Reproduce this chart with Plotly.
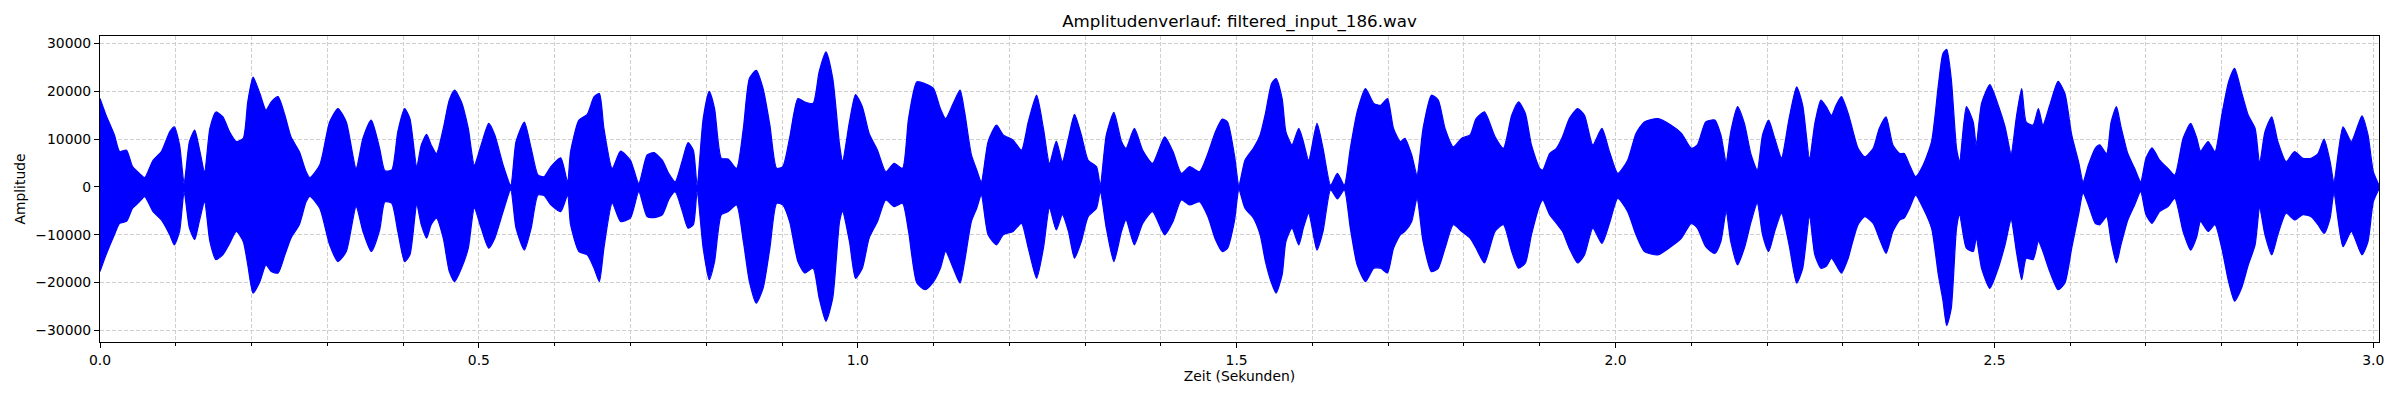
import plotly.graph_objects as go

# envelope of the waveform (seconds / amplitude)
time_s = [
    0.000, 0.008, 0.019, 0.026, 0.035, 0.043, 0.052, 0.059, 0.070, 0.081,
    0.092, 0.098, 0.105, 0.111, 0.118, 0.125, 0.131, 0.138, 0.145, 0.153,
    0.162, 0.171, 0.180, 0.189, 0.195, 0.202, 0.211, 0.219, 0.226, 0.235,
    0.244, 0.252, 0.263, 0.272, 0.277, 0.290, 0.303, 0.314, 0.325, 0.338,
    0.347, 0.358, 0.369, 0.376, 0.385, 0.393, 0.402, 0.409, 0.418, 0.424,
    0.431, 0.437, 0.444, 0.453, 0.461, 0.468, 0.477, 0.486, 0.494, 0.503,
    0.513, 0.521, 0.532, 0.542, 0.549, 0.560, 0.569, 0.578, 0.586, 0.595,
    0.608, 0.617, 0.621, 0.632, 0.643, 0.652, 0.659, 0.665, 0.676, 0.687,
    0.700, 0.711, 0.722, 0.731, 0.742, 0.751, 0.759, 0.768, 0.776, 0.783,
    0.788, 0.796, 0.804, 0.811, 0.820, 0.829, 0.840, 0.849, 0.857, 0.866,
    0.875, 0.884, 0.893, 0.901, 0.910, 0.921, 0.930, 0.941, 0.949, 0.958,
    0.967, 0.976, 0.980, 0.989, 0.997, 1.006, 1.015, 1.026, 1.037, 1.048,
    1.059, 1.067, 1.078, 1.089, 1.100, 1.109, 1.116, 1.126, 1.135, 1.141,
    1.150, 1.157, 1.163, 1.172, 1.183, 1.192, 1.205, 1.216, 1.225, 1.236,
    1.245, 1.253, 1.262, 1.270, 1.278, 1.286, 1.295, 1.304, 1.315, 1.320,
    1.328, 1.338, 1.348, 1.354, 1.365, 1.376, 1.389, 1.405, 1.416, 1.427,
    1.438, 1.451, 1.462, 1.472, 1.481, 1.488, 1.497, 1.503, 1.511, 1.522,
    1.531, 1.538, 1.546, 1.552, 1.560, 1.565, 1.573, 1.582, 1.588, 1.595,
    1.606, 1.614, 1.624, 1.633, 1.642, 1.650, 1.659, 1.670, 1.681, 1.690,
    1.699, 1.707, 1.716, 1.722, 1.731, 1.738, 1.746, 1.757, 1.766, 1.775,
    1.786, 1.797, 1.808, 1.816, 1.827, 1.841, 1.852, 1.863, 1.872, 1.881,
    1.889, 1.900, 1.904, 1.913, 1.922, 1.930, 1.939, 1.950, 1.959, 1.970,
    1.982, 1.992, 2.003, 2.016, 2.027, 2.038, 2.056, 2.073, 2.087, 2.100,
    2.108, 2.119, 2.131, 2.139, 2.146, 2.152, 2.161, 2.170, 2.179, 2.187,
    2.194, 2.202, 2.210, 2.219, 2.229, 2.239, 2.247, 2.256, 2.263, 2.271,
    2.278, 2.285, 2.291, 2.298, 2.307, 2.313, 2.320, 2.329, 2.340, 2.348,
    2.357, 2.366, 2.375, 2.381, 2.388, 2.396, 2.406, 2.417, 2.426, 2.432,
    2.437, 2.443, 2.450, 2.454, 2.463, 2.472, 2.476, 2.483, 2.494, 2.505,
    2.514, 2.522, 2.529, 2.536, 2.542, 2.551, 2.558, 2.564, 2.573, 2.584,
    2.593, 2.602, 2.611, 2.617, 2.624, 2.633, 2.639, 2.648, 2.654, 2.661,
    2.667, 2.676, 2.685, 2.693, 2.700, 2.708, 2.718, 2.729, 2.738, 2.749,
    2.759, 2.767, 2.772, 2.782, 2.791, 2.800, 2.809, 2.817, 2.826, 2.835,
    2.844, 2.850, 2.857, 2.866, 2.874, 2.885, 2.896, 2.907, 2.918, 2.927,
    2.935, 2.943, 2.948, 2.960, 2.971, 2.985, 2.993, 3.000, 3.0075,
]

env_upper = [
    18500, 15000, 10900, 7400, 7700, 4250, 2850, 1950, 5600, 7400,
    11550, 12600, 8800, 750, 9500, 11900, 8100, 3200, 12250, 15700,
    14700, 11550, 9500, 10200, 17800, 23000, 19550, 16100, 17800, 18900,
    15000, 10500, 7400, 3200, 1950, 4600, 13600, 16400, 13600, 3900,
    10200, 14000, 8100, 3400, 3550, 11550, 16400, 14300, 4250, 8800,
    11000, 8800, 7000, 12250, 18200, 20250, 17800, 12250, 4600, 8800,
    13300, 10900, 4600, 400, 9500, 13600, 8100, 2500, 2150, 4250,
    6100, 1100, 7400, 14000, 15200, 18900, 19550, 12250, 3900, 7500,
    5600, 750, 6700, 7200, 5600, 2700, 1100, 5300, 9300, 7700,
    400, 14300, 20000, 16400, 6000, 5850, 3900, 12250, 22700, 24400,
    20600, 12950, 3900, 4250, 10200, 18500, 17800, 17500, 24100, 28300,
    22700, 8800, 5400, 13600, 19350, 16800, 11200, 7700, 3200, 4950,
    3900, 14300, 22000, 21600, 20600, 16400, 14300, 17500, 20250, 15700,
    6700, 3550, 1100, 9500, 12950, 10900, 9800, 7700, 13600, 19200,
    12250, 4950, 9600, 5300, 10200, 15200, 10900, 5600, 4250, 400,
    10900, 15600, 9500, 8100, 12250, 7700, 4950, 10500, 7400, 2850,
    4250, 3200, 7000, 11550, 14200, 13600, 6700, 400, 5600, 8100,
    10900, 15400, 21600, 22700, 18500, 11550, 8800, 12250, 9500, 5600,
    13300, 8100, 400, 2850, 400, 8100, 15700, 20600, 17500, 17100,
    18500, 12250, 9500, 10200, 6700, 2500, 12250, 19200, 18200, 12250,
    8400, 10200, 10900, 14300, 15700, 10500, 8100, 15000, 17800, 15400,
    8800, 3900, 3550, 7000, 8100, 10500, 14300, 16400, 15000, 8800,
    12250, 7400, 2850, 5600, 11200, 13600, 14300, 12950, 11200, 8100,
    8800, 13600, 14000, 10900, 5300, 11550, 16800, 13300, 6700, 3550,
    10900, 14000, 10200, 6100, 14300, 20950, 17100, 6000, 13300, 18200,
    16800, 15000, 17100, 18900, 15400, 11900, 8100, 6300, 8100, 12250,
    14700, 8800, 7000, 7000, 4600, 2150, 4600, 9500, 21300, 27900,
    28800, 22700, 8100, 5300, 16800, 13600, 8800, 17500, 21400, 17100,
    12600, 7000, 14700, 20600, 13600, 12950, 16400, 12950, 17100, 22100,
    19550, 10900, 5300, 1100, 4600, 8100, 8800, 7000, 13600, 16800,
    12600, 7000, 3900, 1100, 6000, 8200, 5600, 3900, 2500, 10200,
    13300, 10200, 7500, 9500, 7400, 15000, 22000, 24800, 19900, 15000,
    12250, 4950, 11550, 14700, 9500, 5300, 7400, 6000, 6000, 7000,
    10000, 5300, 1100, 12600, 9500, 14900, 10900, 3200, 400,
]

env_lower = [
    -17700, -14200, -10000, -7600, -7200, -4450, -3100, -2000, -5150, -6900,
    -10000, -12100, -9300, -1000, -8600, -11000, -7200, -3100, -11400, -15200,
    -14200, -11800, -9300, -11400, -16300, -22200, -19800, -16300, -17700, -18000,
    -14200, -10700, -7900, -3100, -1950, -4450, -12100, -15600, -13500, -4100,
    -9300, -13500, -9000, -3100, -3400, -9300, -15600, -14200, -3750, -7900,
    -10700, -7900, -6500, -10700, -17700, -19800, -17000, -12800, -4450, -8600,
    -12800, -10700, -5150, -600, -8600, -13200, -8600, -1700, -1800, -3750,
    -5150, -1700, -7900, -13500, -14200, -17000, -19800, -12800, -3400, -7200,
    -6500, -1000, -6200, -6400, -5800, -2500, -1000, -4800, -8600, -7900,
    -1000, -12800, -19400, -15600, -5800, -5150, -3750, -11400, -19800, -24300,
    -21200, -12800, -3400, -3750, -7200, -15600, -18000, -17000, -23200, -28100,
    -23200, -7200, -5150, -11400, -19100, -17000, -10700, -7200, -2700, -4100,
    -3400, -9300, -20100, -21500, -19800, -17000, -13500, -17000, -20100, -15600,
    -7200, -4450, -1700, -10000, -12100, -10000, -9300, -7600, -12800, -19100,
    -12800, -4450, -9000, -5800, -9300, -14900, -11400, -6200, -4450, -1000,
    -8600, -15600, -9300, -6900, -12100, -7600, -5150, -10000, -7200, -2700,
    -3750, -3100, -6200, -11000, -13500, -12800, -7200, -600, -4450, -6500,
    -10000, -15600, -20100, -22200, -18400, -11400, -8600, -12100, -8600, -5500,
    -13200, -9300, -600, -2500, -600, -8600, -16300, -19800, -17000, -17000,
    -18000, -12800, -10000, -9300, -7200, -2400, -11400, -17700, -17000, -12800,
    -7900, -9300, -10700, -12800, -15900, -9300, -7900, -13500, -17000, -15900,
    -10000, -3750, -2700, -5800, -7600, -9300, -12800, -15900, -14200, -8600,
    -11800, -7600, -2400, -5150, -10000, -13500, -14200, -12500, -10700, -7600,
    -8600, -12500, -13900, -11400, -5150, -11400, -16300, -12800, -7200, -3400,
    -10000, -13500, -9300, -5500, -12100, -20100, -17000, -6200, -14200, -17000,
    -16600, -14900, -16300, -18000, -14900, -11400, -7900, -6200, -7600, -10700,
    -13900, -9300, -6900, -6500, -4450, -1700, -4450, -8600, -18400, -23700,
    -29000, -25400, -8600, -5800, -12800, -13500, -10700, -17000, -21200, -17000,
    -12100, -6900, -13500, -19400, -14900, -15200, -11400, -13500, -17700, -21500,
    -20100, -12800, -5800, -1300, -3750, -7600, -7900, -6200, -11400, -15900,
    -12100, -6900, -3750, -1000, -5800, -7600, -5150, -4100, -2400, -9300,
    -13200, -10400, -7200, -9300, -7900, -12800, -19800, -23900, -21200, -16300,
    -12100, -4450, -10000, -14200, -10000, -5500, -6900, -5800, -6200, -7900,
    -9700, -6500, -1300, -12500, -9300, -14200, -11400, -3100, -400,
]

x_ticks = [0.0, 0.5, 1.0, 1.5, 2.0, 2.5, 3.0]
y_ticks = [-30000, -20000, -10000, 0, 10000, 20000, 30000]
y_labels = ["\u221230000", "\u221220000", "\u221210000", "0", "10000", "20000", "30000"]

BLUE = "#0000ff"
GRID = "#cfcfcf"
FONT = "DejaVu Sans"

fig = go.Figure()
fig.add_trace(go.Scatter(x=time_s, y=env_lower, mode="lines",
                         line=dict(color=BLUE, width=1.2, shape="spline", smoothing=0.6),
                         hoverinfo="skip", showlegend=False))
fig.add_trace(go.Scatter(x=time_s, y=env_upper, mode="lines", fill="tonexty",
                         fillcolor=BLUE,
                         line=dict(color=BLUE, width=1.2, shape="spline", smoothing=0.6),
                         showlegend=False))

axis_common = dict(
    showline=True, linecolor="black", linewidth=1.1, mirror=True,
    ticks="outside", ticklen=5, tickwidth=1.1, tickcolor="black",
    showgrid=True, gridcolor=GRID, gridwidth=0.8, griddash="4px,2px",
    zeroline=False, automargin=False,
    tickfont=dict(family=FONT, size=13.9, color="black"),
)

fig.update_layout(
    width=2400, height=400,
    margin=dict(l=100, r=21, t=36, b=58),
    paper_bgcolor="white", plot_bgcolor="white",
    font=dict(family=FONT, size=13.9, color="black"),
    title=dict(text="Amplitudenverlauf: filtered_input_186.wav",
               x=0.5, xref="paper", xanchor="center",
               y=1 - 21 / 400, yref="container", yanchor="middle",
               automargin=False,
               font=dict(family=FONT, size=16.7, color="black")),
    xaxis=dict(axis_common, range=[0, 3.0075], tickvals=x_ticks,
               tickformat=".1f",
               minor=dict(dtick=0.1, tick0=0, ticks="outside", ticklen=3,
                          tickcolor="black", showgrid=True, gridcolor=GRID,
                          gridwidth=0.8, griddash="4px,2px"),
               title=dict(text="Zeit (Sekunden)", standoff=4,
                          font=dict(family=FONT, size=13.9))),
    yaxis=dict(axis_common, range=[-32430, 31590], tickvals=y_ticks,
               ticktext=y_labels,
               title=dict(text="Amplitude", standoff=6,
                          font=dict(family=FONT, size=13.9))),
)

# drop the browser's default 8px body margin so the figure sits at 0,0
fig.write_html("out.html", config={"displayModeBar": False},
               post_script="document.body.style.margin='0px';")
